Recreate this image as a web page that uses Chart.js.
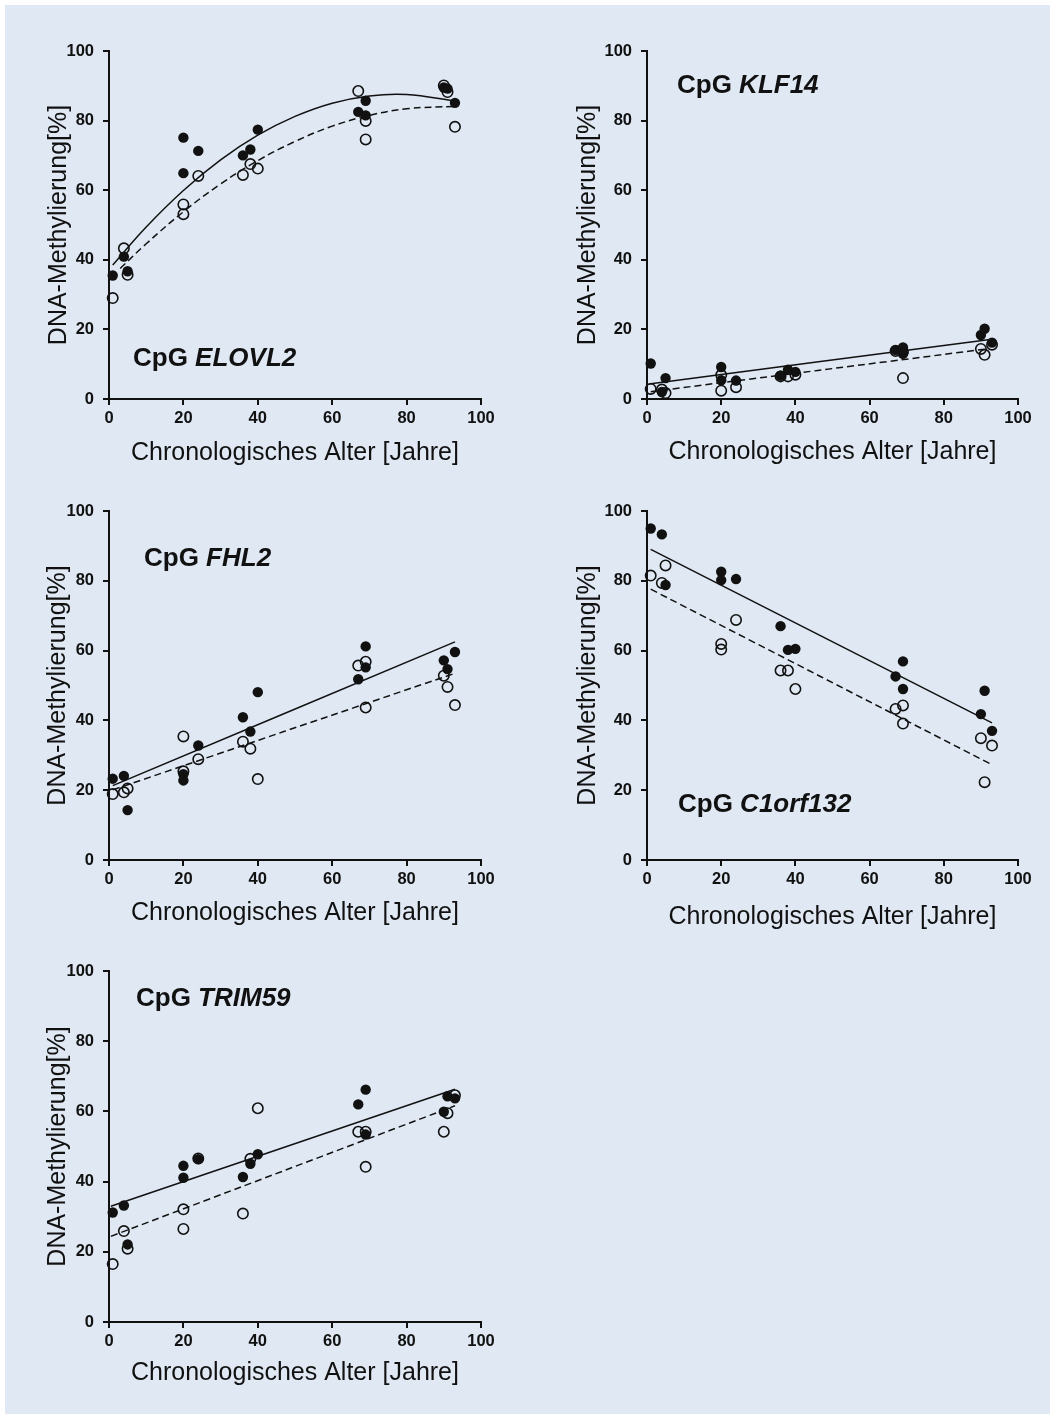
<!DOCTYPE html>
<html>
<head>
<meta charset="utf-8">
<script src="https://cdn.jsdelivr.net/npm/chart.js@4.4.1/dist/chart.umd.min.js"></script>
<style>
    html, body { margin: 0; background: #dfe8f3; overflow: hidden; }
    .edge { position: fixed; background: #fff; z-index: 5; }
    #edgeTop { left: 0; top: 0; right: 0; height: 5px; }
    #edgeLeft { left: 0; top: 0; bottom: 0; width: 5px; }
    canvas { position: absolute; }
</style>
</head>
<body>
<div class="edge" id="edgeTop"></div>
<div class="edge" id="edgeLeft"></div>
<script>
// Ages of the 15 donors (x values, same for every panel)
const ages = [1, 4, 5, 20, 20, 24, 36, 38, 40, 67, 69, 69, 90, 91, 93];

// DNA methylation [%] per CpG, filled = first sample type, open = second
const elovl2Filled = [35.5, 40.9, 36.7, 75.1, 64.9, 71.3, 70.0, 71.7, 77.4, 82.5, 85.7, 81.5, 89.5, 89.2, 85.1];
const elovl2Open = [29.0, 43.3, 35.7, 55.9, 53.1, 64.1, 64.4, 67.5, 66.2, 88.5, 79.9, 74.6, 90.1, 88.2, 78.2];

const klf14Filled = [10.2, 2.0, 6.0, 9.2, 5.4, 5.3, 6.7, 8.4, 7.8, 14.1, 14.8, 13.0, 18.4, 20.2, 16.2];
const klf14Open = [2.9, 2.7, 1.7, 6.9, 2.4, 3.4, 6.5, 6.5, 7.0, 13.8, 13.5, 6.0, 14.4, 12.7, 15.6];

const fhl2Filled = [23.3, 24.1, 14.3, 24.6, 22.8, 32.8, 40.9, 36.8, 48.1, 51.8, 61.2, 55.2, 57.2, 54.7, 59.6];
const fhl2Open = [18.9, 19.4, 20.5, 35.4, 25.4, 28.9, 33.9, 31.9, 23.2, 55.7, 56.8, 43.7, 52.8, 49.6, 44.4];

const c1orf132Filled = [95.0, 93.3, 78.8, 82.6, 80.2, 80.5, 67.0, 60.2, 60.5, 52.6, 56.9, 49.0, 41.8, 48.5, 37.0];
const c1orf132Open = [81.5, 79.4, 84.4, 61.9, 60.3, 68.8, 54.3, 54.3, 49.0, 43.3, 44.3, 39.1, 34.9, 22.3, 32.8];

const trim59Filled = [31.2, 33.2, 22.1, 44.5, 41.1, 46.4, 41.3, 45.1, 47.8, 62.0, 66.2, 53.4, 59.9, 64.3, 63.7];
const trim59Open = [16.5, 25.9, 20.9, 32.1, 26.5, 46.6, 30.9, 46.5, 60.9, 54.2, 54.2, 44.2, 54.2, 59.5, 64.6];

// Trend lines (x and y of points along each line)
const elovl2SolidX = [1, 10, 20, 30, 40, 50, 60, 70, 80, 93];
const elovl2SolidY = [38.5, 49.4, 59.9, 68.7, 75.8, 81.2, 85.0, 87.1, 87.5, 85.6];
const elovl2DashX = [3, 10, 20, 30, 40, 50, 60, 70, 80, 93];
const elovl2DashY = [37.5, 44.6, 53.8, 61.8, 68.5, 74.0, 78.4, 81.5, 83.4, 84.1];

const klf14SolidX = [0.5, 93];
const klf14SolidY = [4.3, 17.2];
const klf14DashX = [1, 91];
const klf14DashY = [2.1, 14.3];

const fhl2SolidX = [1, 93];
const fhl2SolidY = [21.3, 62.5];
const fhl2DashX = [1, 93];
const fhl2DashY = [20.1, 53.5];

const c1orf132SolidX = [1, 93];
const c1orf132SolidY = [89.0, 39.3];
const c1orf132DashX = [1, 93];
const c1orf132DashY = [77.6, 27.3];

const trim59SolidX = [0.5, 93];
const trim59SolidY = [33.0, 66.3];
const trim59DashX = [0.5, 93];
const trim59DashY = [24.4, 61.6];

// Axis ticks
const xTicks = [0, 20, 40, 60, 80, 100];
const yTicks = [0, 20, 40, 60, 80, 100];

const FONT = "'Liberation Sans', Arial, Helvetica, sans-serif";
const INK = '#111';

const toPoints = (xs, ys) => xs.map((x, i) => ({ x: x, y: ys[i] }));

// Gene label drawn inside the plot area ("CpG" + italic gene name)
const geneLabel = {
    id: 'geneLabel',
    afterDraw(chart) {
        const o = chart.options.plugins.geneLabel;
        const ctx = chart.ctx;
        const a = chart.chartArea;
        ctx.save();
        ctx.fillStyle = INK;
        ctx.textBaseline = 'alphabetic';
        ctx.font = `bold 26px ${FONT}`;
        const x = a.left + o.dx;
        const y = a.top + o.dy;
        ctx.fillText('CpG ', x, y);
        const w = ctx.measureText('CpG ').width;
        ctx.font = `italic bold 26px ${FONT}`;
        ctx.fillText(o.gene, x + w, y);
        ctx.restore();
    }
};

function makePanel(p) {
    const canvas = document.createElement('canvas');
    const cw = p.w + 80 + 25;
    const ch = p.h + 20 + 80;
    canvas.width = cw;
    canvas.height = ch;
    canvas.style.left = (p.x0 - 80) + 'px';
    canvas.style.top = (p.y0 - 20) + 'px';
    canvas.style.width = cw + 'px';
    canvas.style.height = ch + 'px';
    document.body.appendChild(canvas);

    const tickFont = { family: FONT, size: 16.5, weight: 'bold' };
    const titleFont = { family: FONT, size: 25 };

    new Chart(canvas.getContext('2d'), {
        type: 'scatter',
        data: {
            datasets: [
                {
                    data: toPoints(ages, p.filled),
                    pointRadius: 5.2,
                    pointBackgroundColor: INK,
                    pointBorderWidth: 0,
                    clip: false
                },
                {
                    data: toPoints(ages, p.open),
                    pointRadius: 5.2,
                    pointBackgroundColor: 'rgba(0,0,0,0)',
                    pointBorderColor: INK,
                    pointBorderWidth: 1.6,
                    clip: false
                },
                {
                    data: toPoints(p.solidX, p.solidY),
                    showLine: true,
                    pointRadius: 0,
                    borderColor: INK,
                    borderWidth: 1.5,
                    tension: 0.4
                },
                {
                    data: toPoints(p.dashX, p.dashY),
                    showLine: true,
                    pointRadius: 0,
                    borderColor: INK,
                    borderWidth: 1.5,
                    borderDash: [7, 4],
                    tension: 0.4
                }
            ]
        },
        options: {
            responsive: false,
            animation: false,
            devicePixelRatio: 1,
            layout: { padding: { left: 0, top: 20, right: 25, bottom: 0 } },
            plugins: {
                legend: { display: false },
                tooltip: { enabled: false },
                geneLabel: { gene: p.gene, dx: p.labelDx, dy: p.labelDy }
            },
            scales: {
                x: {
                    type: 'linear',
                    min: 0, max: 100,
                    afterBuildTicks: s => { s.ticks = xTicks.map(v => ({ value: v })); },
                    afterFit: s => { s.height = 80; },
                    grid: { drawOnChartArea: false, drawTicks: true, tickLength: 6, color: INK, lineWidth: 2 },
                    border: { display: true, color: INK, width: 2 },
                    ticks: { font: tickFont, color: INK, padding: 4, maxRotation: 0 },
                    title: {
                        display: true,
                        text: 'Chronologisches Alter [Jahre]',
                        font: titleFont, color: INK,
                        padding: { top: 0, bottom: 80 - 15 - p.xTitleGap }
                    }
                },
                y: {
                    type: 'linear',
                    min: 0, max: 100,
                    afterBuildTicks: s => { s.ticks = yTicks.map(v => ({ value: v })); },
                    afterFit: s => { s.width = 80; },
                    grid: { drawOnChartArea: false, drawTicks: true, tickLength: 6, color: INK, lineWidth: 2 },
                    border: { display: true, color: INK, width: 2 },
                    ticks: { font: tickFont, color: INK, padding: 9 },
                    title: {
                        display: true,
                        text: 'DNA-Methylierung[%]',
                        font: titleFont, color: INK,
                        padding: { top: 80 - 15 - p.yTitleGap, bottom: 0 }
                    }
                }
            }
        },
        plugins: [geneLabel]
    });
}

makePanel({
    x0: 109, y0: 51, w: 372, h: 348,
    filled: elovl2Filled, open: elovl2Open,
    solidX: elovl2SolidX, solidY: elovl2SolidY, dashX: elovl2DashX, dashY: elovl2DashY,
    gene: 'ELOVL2', labelDx: 24, labelDy: 315,
    xTitleGap: 54, yTitleGap: 50
});
makePanel({
    x0: 647, y0: 51, w: 371, h: 348,
    filled: klf14Filled, open: klf14Open,
    solidX: klf14SolidX, solidY: klf14SolidY, dashX: klf14DashX, dashY: klf14DashY,
    gene: 'KLF14', labelDx: 30, labelDy: 42,
    xTitleGap: 53, yTitleGap: 59
});
makePanel({
    x0: 109, y0: 511, w: 372, h: 349,
    filled: fhl2Filled, open: fhl2Open,
    solidX: fhl2SolidX, solidY: fhl2SolidY, dashX: fhl2DashX, dashY: fhl2DashY,
    gene: 'FHL2', labelDx: 35, labelDy: 55,
    xTitleGap: 53, yTitleGap: 51
});
makePanel({
    x0: 647, y0: 511, w: 371, h: 349,
    filled: c1orf132Filled, open: c1orf132Open,
    solidX: c1orf132SolidX, solidY: c1orf132SolidY, dashX: c1orf132DashX, dashY: c1orf132DashY,
    gene: 'C1orf132', labelDx: 31, labelDy: 301,
    xTitleGap: 57, yTitleGap: 59
});
makePanel({
    x0: 109, y0: 971, w: 372, h: 351,
    filled: trim59Filled, open: trim59Open,
    solidX: trim59SolidX, solidY: trim59SolidY, dashX: trim59DashX, dashY: trim59DashY,
    gene: 'TRIM59', labelDx: 27, labelDy: 35,
    xTitleGap: 51, yTitleGap: 51
});
</script>
</body>
</html>
